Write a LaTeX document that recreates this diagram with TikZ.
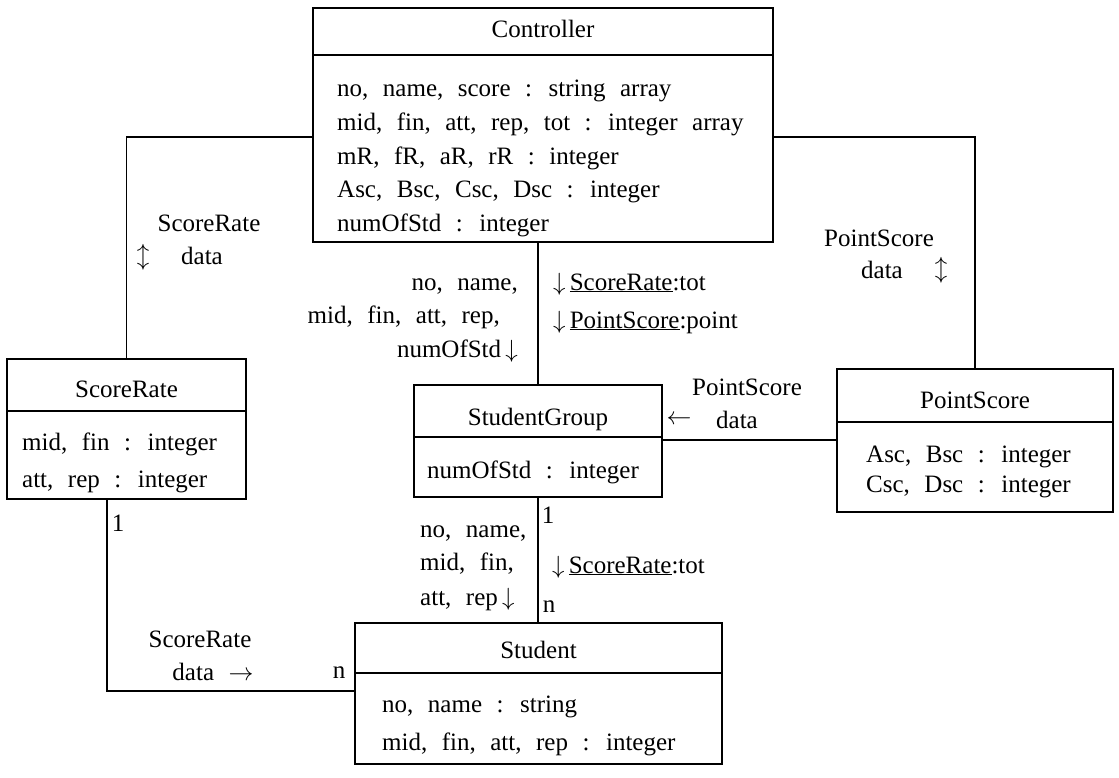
\documentclass[tikz,border=0pt]{standalone}
\usepackage{fontspec}
\setmainfont{Liberation Serif}
\newcommand\txtfont{\fontsize{25}{30}\selectfont\spaceskip=.58em plus .1em minus .05em\relax}
\begin{document}
\begin{tikzpicture}[x=1pt,y=-1pt,
  cls/.style={draw, line width=1.6pt, inner sep=0pt, rectangle},
  sep/.style={line width=1.4pt},
  link/.style={line width=1.5pt},
  txt/.style={font=\txtfont, inner sep=0pt},
  ttl/.style={txt, anchor=base},
  attr/.style={txt, anchor=base west},
  lbl/.style={txt, anchor=base},
  lble/.style={txt, anchor=base east},
  glyph/.style={txt, anchor=center},
]
\useasboundingbox (0,0) rectangle (1119,778);

% class boxes
\node[cls, minimum width=460pt, minimum height=234pt] (ctrl)   at (543,125) {};
\node[cls, minimum width=239pt, minimum height=140pt] (srate)  at (126.5,429) {};
\node[cls, minimum width=248pt, minimum height=112pt] (sgroup) at (538,441) {};
\node[cls, minimum width=276pt, minimum height=143pt] (pscore) at (975,440.5) {};
\node[cls, minimum width=367pt, minimum height=141pt] (stud)   at (538.5,693.5) {};

% title separators
\draw[sep] (ctrl.west |- 0,55)    -- (ctrl.east |- 0,55);
\draw[sep] (srate.west |- 0,411)  -- (srate.east |- 0,411);
\draw[sep] (sgroup.west |- 0,437) -- (sgroup.east |- 0,437);
\draw[sep] (pscore.west |- 0,422) -- (pscore.east |- 0,422);
\draw[sep] (stud.west |- 0,673)   -- (stud.east |- 0,673);

% Controller
\node[ttl]  (ctrlT) at (543,38) {Controller};
\node[attr] (ctrlA1) at (337,97)  {no, name, score : string array};
\node[attr] (ctrlA2) at (337,131) {mid, fin, att, rep, tot : integer array};
\node[attr] (ctrlA3) at (337,165) {mR, fR, aR, rR : integer};
\node[attr] (ctrlA4) at (337,198) {Asc, Bsc, Csc, Dsc : integer};
\node[attr] (ctrlA5) at (337,232) {numOfStd : integer};

% ScoreRate
\node[ttl]  (srateT)  at (126.5,397) {ScoreRate};
\node[attr] (srateA1) at (22,450) {mid, fin : integer};
\node[attr] (srateA2) at (22,487) {att, rep : integer};

% StudentGroup
\node[ttl]  (sgroupT)  at (538,425) {StudentGroup};
\node[attr] (sgroupA1) at (427,478) {numOfStd : integer};

% PointScore
\node[ttl]  (pscoreT)  at (975,408) {PointScore};
\node[attr] (pscoreA1) at (866,462) {Asc, Bsc : integer};
\node[attr] (pscoreA2) at (866,492) {Csc, Dsc : integer};

% Student
\node[ttl]  (studT)  at (538.5,658) {Student};
\node[attr] (studA1) at (382,712) {no, name : string};
\node[attr] (studA2) at (382,750) {mid, fin, att, rep : integer};

% connectors
\draw[link] (ctrl.west |- 0,137) -| (srate.north);
\draw[link] (ctrl.east |- 0,137) -| (pscore.north);
\draw[link] (sgroup.north) -- (sgroup.north |- ctrl.south);
\draw[link] (sgroup.south) -- (sgroup.south |- stud.north);
\draw[link] (pscore.west |- 0,440) -- (sgroup.east |- 0,440);
\draw[link] (107,0 |- srate.south) |- (stud.west |- 0,691);

% Controller -- ScoreRate
\node[lbl]   (l1a) at (209,232) {ScoreRate};
\node[lbl]   (l1b) at (202,265) {data};
\node[glyph] (l1c) at (143,257) {$\updownarrow$};

% Controller -- PointScore
\node[lbl]   (l2a) at (879,247) {PointScore};
\node[lbl]   (l2b) at (882,278) {data};
\node[glyph] (l2c) at (941,270) {$\updownarrow$};

% Controller -- StudentGroup
\node[lble] (l3a) at (518,290) {no, name,};
\node[lble] (l3b) at (500,323) {mid, fin, att, rep,};
\node[lble] (l3c) at (518,357) {numOfStd\,$\downarrow$};
\node[attr] (l3d) at (553,290) {$\downarrow$\,\underline{ScoreRate}:tot};
\node[attr] (l3e) at (553,328) {$\downarrow$\,\underline{PointScore}:point};

% PointScore -- StudentGroup
\node[lbl]   (l4a) at (747,395) {PointScore};
\node[glyph] (l4b) at (679,420) {$\leftarrow$};
\node[lbl]   (l4c) at (737,428) {data};

% StudentGroup -- Student
\node[attr]  (l5a) at (420,537) {no, name,};
\node[attr]  (l5b) at (420,570) {mid, fin,};
\node[attr]  (l5c) at (420,605) {att, rep\,$\downarrow$};
\node[glyph] (l5d) at (548,515) {1};
\node[glyph] (l5e) at (549,607) {n};
\node[attr]  (l5f) at (552,573) {$\downarrow$\,\underline{ScoreRate}:tot};

% ScoreRate -- Student
\node[glyph] (l6a) at (118,523) {1};
\node[glyph] (l6b) at (339,673) {n};
\node[lbl]   (l6c) at (200,647) {ScoreRate};
\node[lbl]   (l6d) at (213,680) {data $\rightarrow$};
\end{tikzpicture}
\end{document}
